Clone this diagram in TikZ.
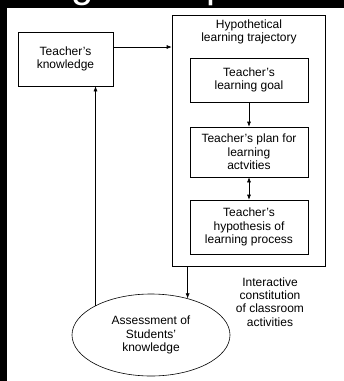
\documentclass[tikz,border=0pt]{standalone}
\usepackage{fontspec}
\setmainfont{Liberation Sans}
\usetikzlibrary{shapes.geometric,arrows.meta}
\tikzset{
  x=1pt,y=1pt,
  box/.style={draw, line width=0.6pt, align=center, inner sep=0pt, font=\fontsize{12}{13.5}\selectfont},
  lbl/.style={align=center, inner sep=0pt, font=\fontsize{12}{13.2}\selectfont},
  arr/.style={line width=0.6pt, -{Latex[length=5pt,width=4pt]}},
  darr/.style={line width=0.6pt, {Latex[length=5pt,width=4pt]}-{Latex[length=5pt,width=4pt]}}
}
\begin{document}
\begin{tikzpicture}
\useasboundingbox (0,0) rectangle (344,-381);
\fill[white] (0,0) rectangle (344,-381);
% black frame fragments
\fill[black] (0,0) rectangle (344,-8);
\fill[black] (0,0) rectangle (7,-381);
\begin{scope}
\clip (0,0) rectangle (344,-8);
\node[anchor=base, inner sep=0pt, text=white, font=\fontsize{40}{40}\selectfont] (tg) at (83,2.5) {g};
\node[anchor=base, inner sep=0pt, text=white, font=\fontsize{40}{40}\selectfont] (tp) at (218,2.5) {p};
\end{scope}
% nodes
\node[box, minimum width=95, minimum height=54] (tk) at (65.5,-59) {Teacher's\\knowledge};
\node[draw, line width=0.6pt, minimum width=153, minimum height=251, inner sep=0pt] (hlt) at (248.5,-140.5) {};
\node[lbl] (hltt) at (249,-32) {Hypothetical\\learning trajectory};
\node[box, minimum width=118, minimum height=44] (g1) at (249,-80) {Teacher's\\learning goal};
\node[box, minimum width=118, minimum height=50] (g2) at (249,-152) {Teacher's plan for\\learning\\actvities};
\node[box, minimum width=118, minimum height=54] (g3) at (249,-227) {Teacher's\\hypothesis of\\learning process};
\node[draw, ellipse, line width=0.6pt, minimum width=158, minimum height=82, inner sep=0pt, align=center,
      font=\fontsize{12}{13.2}\selectfont] (ell) at (151,-335) {Assessment of\\Students'\\knowledge};
\node[lbl] (ic) at (270,-302) {Interactive\\constitution\\of classroom\\activities};
% connectors
\draw[arr] ([yshift=12]tk.east) -- ([yshift=12]tk.east -| hlt.west);
\draw[arr] (g1.south) -- (g2.north);
\draw[darr] (g2.south) -- (g3.north);
\draw[arr] (ell.45 |- hlt.south) -- (ell.45);
\draw[arr] (ell.152) -- (ell.152 |- tk.south);
\end{tikzpicture}
\end{document}
